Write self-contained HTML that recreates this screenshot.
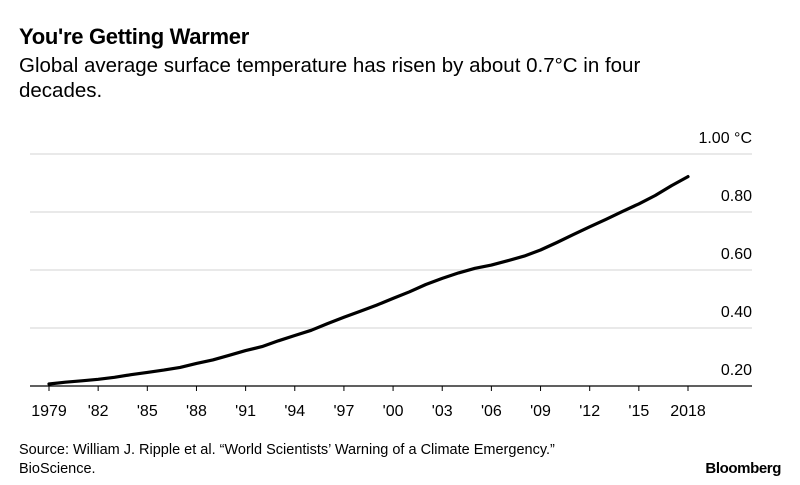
<!DOCTYPE html>
<html><head><meta charset="utf-8"><style>
body{margin:0;background:#fff;width:800px;height:485px;overflow:hidden;font-family:"Liberation Sans",sans-serif;}
.t{position:absolute;left:19px;top:24px;font-size:22px;font-weight:bold;color:#000;letter-spacing:-0.3px}
.s{position:absolute;left:19px;top:53px;font-size:20.5px;color:#000;line-height:25px;width:680px}
.src{position:absolute;left:19px;top:441px;font-size:14.5px;color:#000;line-height:19px}
.logo{position:absolute;right:19px;top:460px;font-size:15px;font-weight:bold;letter-spacing:-0.4px}
</style></head><body>
<div class="t">You're Getting Warmer</div>
<div class="s">Global average surface temperature has risen by about 0.7°C in four decades.</div>
<svg id="c" width="800" height="485" style="position:absolute;left:0;top:0"></svg>
<div class="src">Source: William J. Ripple et al. “World Scientists’ Warning of a Climate Emergency.”<br>BioScience.</div>
<div class="logo">Bloomberg</div>
<script>
const years=[1979,1980,1981,1982,1983,1984,1985,1986,1987,1988,1989,1990,1991,1992,1993,1994,1995,1996,1997,1998,1999,2000,2001,2002,2003,2004,2005,2006,2007,2008,2009,2010,2011,2012,2013,2014,2015,2016,2017,2018];
const temps=[0.207,0.213,0.218,0.223,0.230,0.239,0.247,0.255,0.264,0.278,0.290,0.306,0.322,0.336,0.356,0.374,0.392,0.415,0.437,0.458,0.479,0.502,0.525,0.550,0.571,0.590,0.606,0.617,0.632,0.648,0.669,0.695,0.722,0.749,0.775,0.802,0.828,0.857,0.891,0.922];
const yTicks=[0.2,0.4,0.6,0.8,1.0];
const yTickLabels=["0.20","0.40","0.60","0.80","1.00 °C"];
const xTicks=[1979,1982,1985,1988,1991,1994,1997,2000,2003,2006,2009,2012,2015,2018];
const xTickLabels=["1979","'82","'85","'88","'91","'94","'97","'00","'03","'06","'09","'12","'15","2018"];
const NS="http://www.w3.org/2000/svg",svg=document.getElementById('c');
const x=v=>49+(v-1979)*(688-49)/39;
const y=v=>386-(v-0.2)*(386-154)/0.8;
function mk(t,a){const e=document.createElementNS(NS,t);for(const k in a)e.setAttribute(k,a[k]);svg.appendChild(e);return e;}
yTicks.forEach((v,i)=>{
 if(i>0){const g=mk('line',{x1:30,x2:752,y1:y(v),y2:y(v),stroke:'#dcdcdc','stroke-width':1.2});
 
 }
 const t=mk('text',{x:752,y:y(v)-11,'text-anchor':'end','font-size':16,fill:'#000','font-family':'Liberation Sans'});
 t.textContent=yTickLabels[i];
 
 
});
const ax=mk('line',{x1:30,x2:752,y1:y(0.2),y2:y(0.2),stroke:'#000','stroke-width':1.3});


xTicks.forEach((v,i)=>{
 const tk=mk('line',{x1:x(v),x2:x(v),y1:y(0.2),y2:y(0.2)+5,stroke:'#000','stroke-width':1});
 
 
 const t=mk('text',{x:x(v),y:416,'text-anchor':'middle','font-size':16,fill:'#000','font-family':'Liberation Sans'});
 t.textContent=xTickLabels[i];
 
 
});
const p=mk('path',{d:years.map((yr,i)=>(i?'L':'M')+x(yr).toFixed(1)+','+y(temps[i]).toFixed(1)).join(''),fill:'none',stroke:'#000','stroke-width':3.2,'stroke-linejoin':'round','stroke-linecap':'round'});


</script>
</body></html>
